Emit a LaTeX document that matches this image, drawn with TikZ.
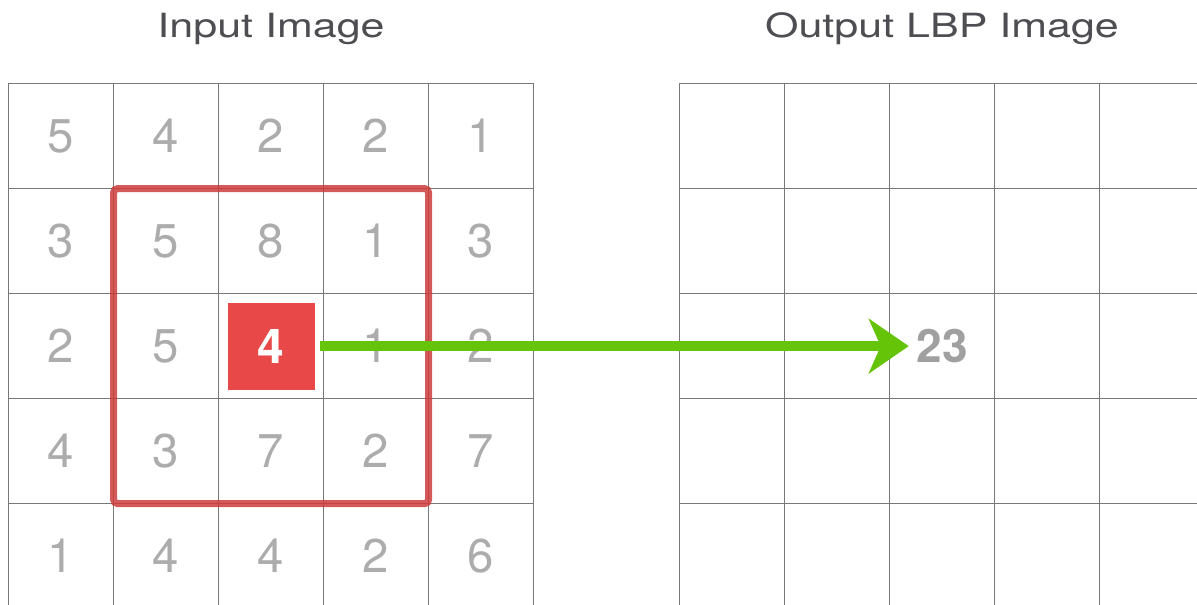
\documentclass[tikz,border=0pt]{standalone}
\usepackage{fontspec}
\setmainfont{TeX Gyre Heros}
\newfontfamily\titlefont{TeX Gyre Heros}[FakeStretch=1.29]
\usepackage{xcolor}
\usetikzlibrary{matrix,positioning,arrows.meta}

\definecolor{cellgray}{RGB}{172,172,172}
\definecolor{linegray}{RGB}{120,120,120}
\definecolor{titlegray}{RGB}{78,78,82}
\definecolor{boxred}{RGB}{205,60,60}
\definecolor{hotred}{RGB}{232,72,72}
\definecolor{lbpgreen}{RGB}{102,196,8}
\definecolor{outgray}{RGB}{160,160,160}

\begin{document}
\begin{tikzpicture}[x=0.75pt, y=-0.75pt,
  imgcell/.style={draw=linegray, line width=0.9pt, minimum size=78.75pt,
                  inner sep=0pt, outer sep=0pt, anchor=center,
                  text=cellgray, font=\fontsize{35.5}{36}\selectfont},
  imggrid/.style={matrix of nodes, nodes={imgcell}, inner sep=0pt, outer sep=0pt,
                  column sep=-0.9pt, row sep=-0.9pt, anchor=north west},
  imgtitle/.style={anchor=base, text=titlegray, font=\titlefont\fontsize{25}{25}\selectfont},
  hotpx/.style={draw=none, fill=hotred, minimum size=65.25pt, text=white,
                font=\bfseries\fontsize{36}{36}\selectfont},
  winbox/.style={draw=boxred, draw opacity=0.85, line width=5.25pt, rounded corners=3pt},
  lbparrow/.style={-{Stealth[length=30pt, width=41pt, inset=9pt]},
                   draw=lbpgreen, line width=7pt},
  lbpcode/.style={text=outgray, font=\bfseries\fontsize{34.5}{35}\selectfont}
]
\useasboundingbox (0,0) rectangle (1197,604);

% input image, 5x5
\matrix (in) [imggrid] at (8,83) {
  5 & 4 & 2 & 2 & 1 \\
  3 & 5 & 8 & 1 & 3 \\
  2 & 5 & |[hotpx]| 4 & 1 & 2 \\
  4 & 3 & 7 & 2 & 7 \\
  1 & 4 & 4 & 2 & 6 \\
};

% output LBP image, only the centre value is known
\matrix (out) [imggrid, nodes in empty cells] at (679,83) {
   & & & & \\
   & & & & \\
   & & |[lbpcode]| 23 & & \\
   & & & & \\
   & & & & \\
};

% Titles
\node[imgtitle] (intitle) at (271,37) {Input Image};
\node[imgtitle] (outtitle) at (942,37) {Output LBP Image};

% 3x3 neighbourhood
\draw[winbox] (in-2-2.north west) rectangle (in-4-4.south east);

% centre pixel -> LBP code
\draw[lbparrow, shorten <=4pt, shorten >=25pt] (in-3-3.east) -- (out-3-3.center);
\end{tikzpicture}
\end{document}
